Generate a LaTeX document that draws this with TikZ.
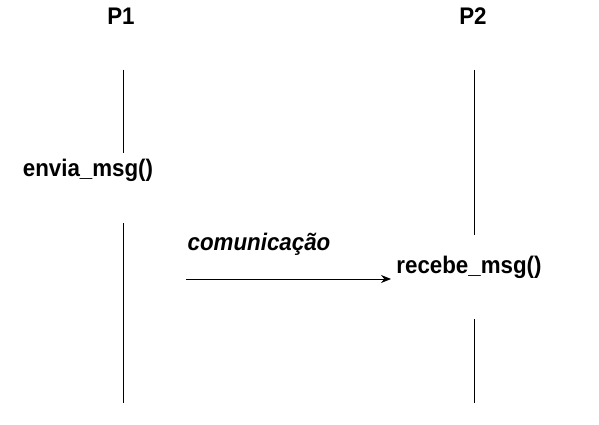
\documentclass[tikz,border=0pt]{standalone}
\usepackage{fontspec}
\setmainfont{Liberation Sans}[FakeStretch=0.93]
\usetikzlibrary{arrows.meta}
\begin{document}
\begin{tikzpicture}[x=1pt,y=-1pt,
  lbl/.style={font=\fontsize{24}{28}\selectfont\bfseries, anchor=base, inner sep=0pt},
  life/.style={line width=1pt},
  msg/.style={line width=1pt, -{Stealth[length=10pt,width=8pt]}}]
\useasboundingbox (0,0) rectangle (599,425);
% headers
\node[lbl] (p1) at (121,25) {P1};
\node[lbl] (p2) at (473,25) {P2};
% events
\node[lbl] (env) at (88,176) {envia\_msg()};
\node[lbl] (rec) at (469,273) {recebe\_msg()};
\node[lbl, font=\fontsize{24}{28}\selectfont\bfseries\itshape] (com) at (259,250) {comunicação};
% lifeline coordinates
\coordinate (a1) at (123,70);
\coordinate (a2) at (123,153);
\coordinate (a3) at (123,223);
\coordinate (a4) at (123,403);
\coordinate (b1) at (474,70);
\coordinate (b2) at (474,235);
\coordinate (b3) at (474,319);
\coordinate (b4) at (474,403);
\draw[life] (a1) -- (a2);
\draw[life] (a3) -- (a4);
\draw[life] (b1) -- (b2);
\draw[life] (b3) -- (b4);
% message
\coordinate (m1) at (186,279);
\coordinate (m2) at (391,279);
\draw[msg] (m1) -- (m2);
\end{tikzpicture}
\end{document}
